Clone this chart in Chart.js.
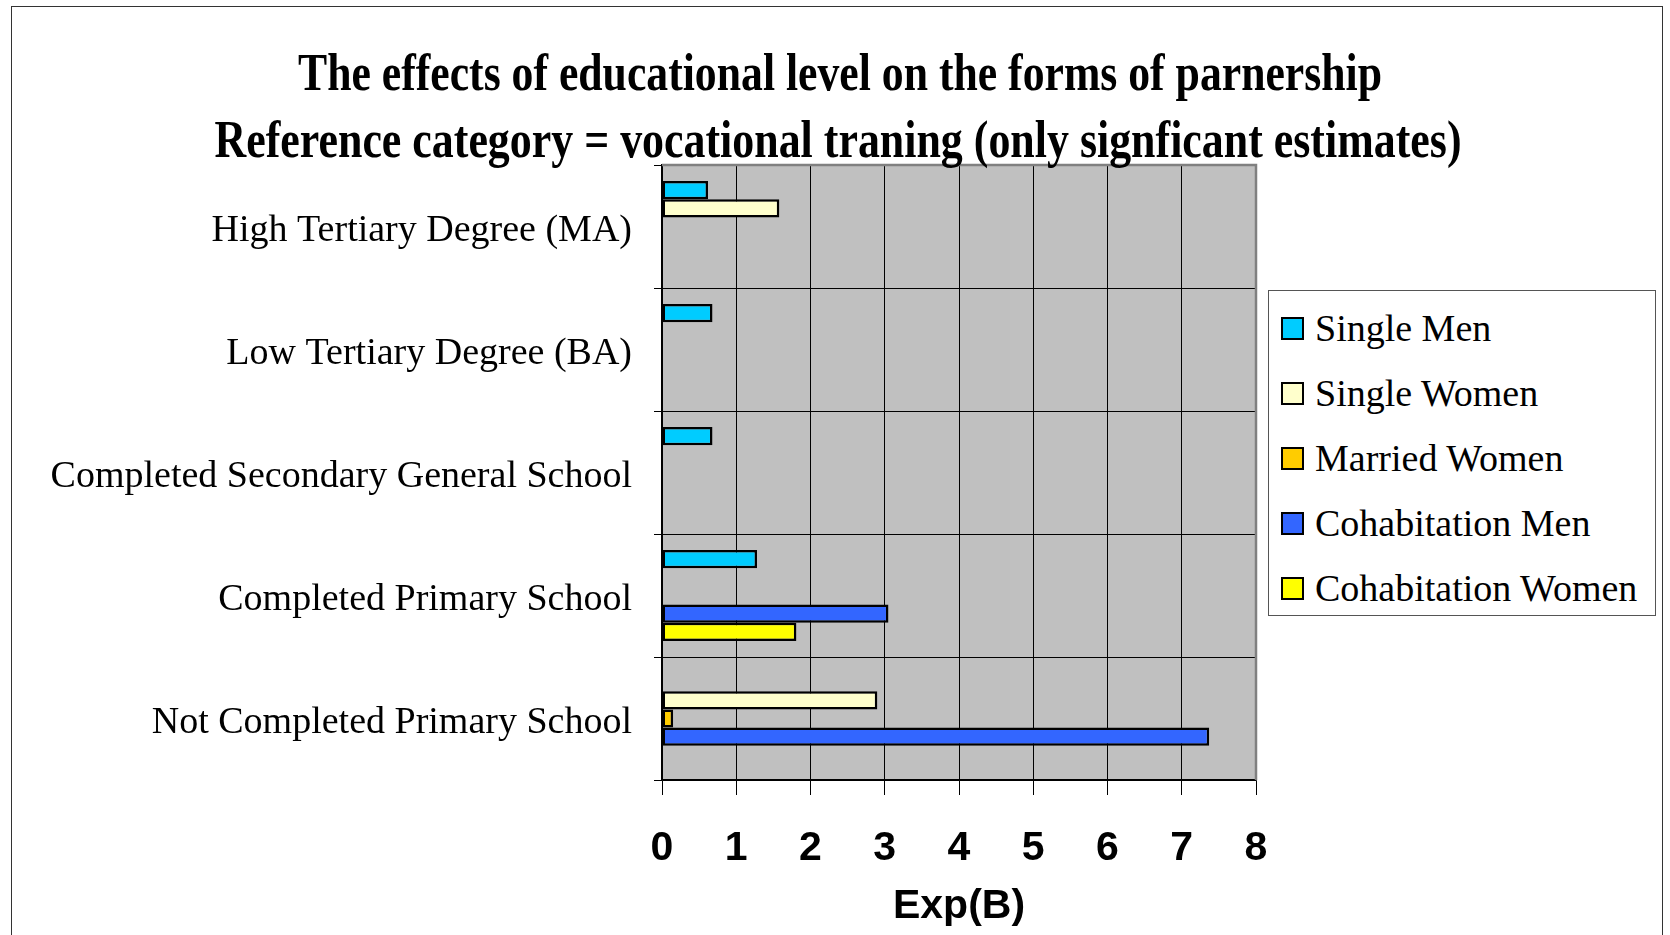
<!DOCTYPE html>
<html>
<head>
<meta charset="utf-8">
<script src="https://cdn.jsdelivr.net/npm/chart.js@4.4.1/dist/chart.umd.min.js"></script>
<style>
  html, body { margin: 0; padding: 0; background: #fff; }
  #wrap { position: relative; width: 1670px; height: 935px; overflow: hidden; }
  #frame { position: absolute; left: 11px; top: 6px; width: 1652px; height: 1000px; border: 1.5px solid #333; box-sizing: border-box; }
  canvas { position: absolute; left: 0; top: 0; }
  #legend { position: absolute; left: 1268px; top: 290px; width: 388px; height: 326px; border: 1.5px solid #555;
            background: #fff; box-sizing: border-box; font-family: 'Liberation Serif', 'Times New Roman', serif; font-size: 38px; }
  .item { position: absolute; left: 12px; height: 44px; display: flex; align-items: center; white-space: nowrap; }
  .sw { width: 19px; height: 19px; border: 2px solid #000; margin-right: 11px; }
</style>
</head>
<body>
<div id="wrap">
  <div id="frame"></div>
  <canvas id="chart" width="1670" height="935"></canvas>
  <div id="legend"></div>
</div>
<script>
// categories, top to bottom
const categories = [
  'High Tertiary Degree (MA)',
  'Low Tertiary Degree (BA)',
  'Completed Secondary General School',
  'Completed Primary School',
  'Not Completed Primary School'
];

// Exp(B) values (only significant estimates, others left empty)
const singleMen = [0.62, 0.68, 0.68, 1.28, null];
const singleWomen = [1.58, null, null, null, 2.90];
const marriedWomen = [null, null, null, null, 0.15];
const cohabitationMen = [null, null, null, 3.05, 7.37];
const cohabitationWomen = [null, null, null, 1.81, null];

const seriesNames = ['Single Men', 'Single Women', 'Married Women', 'Cohabitation Men', 'Cohabitation Women'];
const seriesColors = ['#00CCFF', '#FFFFCC', '#FFCC00', '#3366FF', '#FFFF00'];
const xTickValues = [0, 1, 2, 3, 4, 5, 6, 7, 8];

const titleLines = [
  'The effects of educational level on the forms of parnership',
  'Reference category = vocational traning (only signficant estimates)'
];

const seriesValues = [singleMen, singleWomen, marriedWomen, cohabitationMen, cohabitationWomen];

// grey plot background
const plotBackground = {
  id: 'plotBackground',
  beforeDraw(chart) {
    const { ctx, chartArea: a } = chart;
    ctx.save();
    ctx.fillStyle = '#C0C0C0';
    ctx.fillRect(a.left, a.top, a.right - a.left, a.bottom - a.top);
    ctx.restore();
  }
};

// grey top/right edge of the plot area + squeezed serif title
const frameAndTitle = {
  id: 'frameAndTitle',
  afterDraw(chart) {
    const { ctx, chartArea: a } = chart;
    ctx.save();
    ctx.strokeStyle = '#808080';
    ctx.lineWidth = 2.5;
    ctx.beginPath();
    ctx.moveTo(a.left, a.top);
    ctx.lineTo(a.right, a.top);
    ctx.lineTo(a.right, a.bottom);
    ctx.stroke();

    const targets = [
      { w: 1084, x: 840, y: 90 },
      { w: 1247, x: 838, y: 157 }
    ];
    ctx.font = 'bold 53px "Liberation Serif", "Times New Roman", serif';
    ctx.fillStyle = '#000';
    ctx.textAlign = 'center';
    ctx.textBaseline = 'alphabetic';
    titleLines.forEach((line, i) => {
      const t = targets[i];
      const sx = t.w / ctx.measureText(line).width;
      ctx.save();
      ctx.translate(t.x, t.y);
      ctx.scale(sx, 1);
      ctx.fillText(line, 0, 0);
      ctx.restore();
    });
    ctx.restore();
  }
};

const ctx = document.getElementById('chart').getContext('2d');
new Chart(ctx, {
  type: 'bar',
  data: {
    labels: categories,
    datasets: seriesNames.map((name, i) => ({
      label: name,
      data: seriesValues[i],
      backgroundColor: seriesColors[i],
      borderColor: '#000',
      borderWidth: 2.5,
      borderSkipped: false,
      barPercentage: 1,
      categoryPercentage: 0.74
    }))
  },
  options: {
    indexAxis: 'y',
    responsive: false,
    animation: false,
    devicePixelRatio: 1,
    layout: { padding: { left: 0, top: 165, right: 414, bottom: 4 } },
    plugins: {
      legend: { display: false },
      tooltip: { enabled: false }
    },
    scales: {
      x: {
        min: 0,
        max: 8,
        afterBuildTicks(scale) {
          scale.ticks = xTickValues.map((v) => ({ value: v }));
        },
        afterFit(scale) { scale.height = 151; },
        grid: { color: '#000', lineWidth: 1, tickLength: 15, drawTicks: true },
        border: { color: '#000', width: 1.5 },
        ticks: {
          color: '#000',
          padding: 29,
          font: { family: '"Liberation Sans Narrow", "Liberation Sans", Arial, sans-serif', size: 41, weight: 'bold' }
        },
        title: {
          display: true,
          text: 'Exp(B)',
          color: '#000',
          padding: { top: 0, bottom: 0 },
          font: { family: '"Liberation Sans Narrow", "Liberation Sans", Arial, sans-serif', size: 41, weight: 'bold' }
        }
      },
      y: {
        afterFit(scale) { scale.width = 662; },
        grid: { color: '#000', lineWidth: 1, tickLength: 8, offset: true },
        border: { color: '#000', width: 1.5 },
        ticks: {
          color: '#000',
          padding: 22,
          labelOffset: 5,
          font: { family: '"Liberation Serif", "Times New Roman", serif', size: 38 }
        }
      }
    }
  },
  plugins: [plotBackground, frameAndTitle]
});

// legend box built from the same series
const legend = document.getElementById('legend');
const legendCenters = [37, 102, 167, 232, 297];
seriesNames.forEach((name, i) => {
  const item = document.createElement('div');
  item.className = 'item';
  item.style.top = (legendCenters[i] - 22) + 'px';
  const sw = document.createElement('span');
  sw.className = 'sw';
  sw.style.background = seriesColors[i];
  const txt = document.createElement('span');
  txt.textContent = name;
  item.appendChild(sw);
  item.appendChild(txt);
  legend.appendChild(item);
});
</script>
</body>
</html>
